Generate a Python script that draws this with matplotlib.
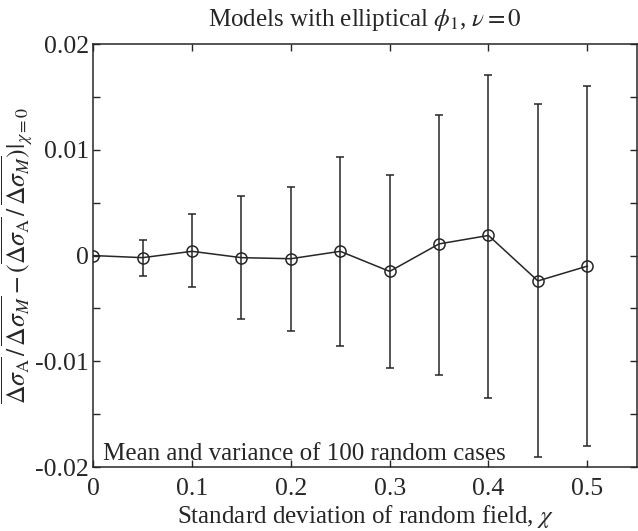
import numpy as np
import matplotlib.pyplot as plt
from matplotlib.ticker import MultipleLocator, FuncFormatter

# Mean difference and spread for each standard deviation of the random field
chi = [0.0, 0.05, 0.10, 0.15, 0.20, 0.25, 0.30, 0.35, 0.40, 0.45, 0.50]
mean_diff = [0.0, -0.0002, 0.0004, -0.0002, -0.0003, 0.0004, -0.0015, 0.0011, 0.0019, -0.0024, -0.0010]
err_up = [0.0, 0.0017, 0.0035, 0.0058, 0.0068, 0.0089, 0.0091, 0.0122, 0.0152, 0.0167, 0.0170]
err_lo = [0.0, 0.0017, 0.0034, 0.0058, 0.0068, 0.0090, 0.0091, 0.0124, 0.0154, 0.0167, 0.0170]

plt.rcParams['font.family'] = ['Liberation Serif', 'DejaVu Serif']
plt.rcParams['mathtext.fontset'] = 'stix'

fig = plt.figure(figsize=(6.38, 5.31), dpi=100)
ax = fig.add_axes([0.146, 0.1205, 0.852, 0.7965])

col = '#262626'
ax.errorbar(chi, mean_diff, yerr=[err_lo, err_up], color=col, lw=1.1,
            elinewidth=1.1, capsize=3, capthick=1.1, marker='o', ms=8,
            mfc='none', mec=col, mew=1.1)

ax.set_xlim(0, 0.55)
ax.set_ylim(-0.02, 0.02)
ax.xaxis.set_major_locator(MultipleLocator(0.1))
ax.yaxis.set_major_locator(MultipleLocator(0.005))


def ylab(v, pos):
    if abs(round(v / 0.01) - v / 0.01) > 1e-6:
        return ''
    if abs(v) < 1e-9:
        return '0'
    return '%g' % v


ax.yaxis.set_major_formatter(FuncFormatter(ylab))
ax.xaxis.set_major_formatter(FuncFormatter(lambda v, p: '0' if abs(v) < 1e-9 else '%g' % v))
ax.tick_params(direction='in', top=True, right=True, length=5, width=1,
               labelsize=18.5, colors=col)
ax.tick_params(axis='x', pad=8)
ax.tick_params(axis='y', pad=3)
for s in ax.spines.values():
    s.set_color(col)
    s.set_linewidth(1.1)

ax.set_title(r'Models with elliptical $\phi_1$, $\nu = 0$', fontsize=18, color=col, pad=13)
ax.set_xlabel(r'Standard deviation of random field, $\chi$', fontsize=18, color=col, labelpad=2)
ax.set_ylabel(r'$\overline{\Delta\sigma_{\mathrm{A}}}\,/\,\overline{\Delta\sigma_{M}}'
              r' - (\overline{\Delta\sigma_{\mathrm{A}}}\,/\,\overline{\Delta\sigma_{M}})|_{\chi=0}$',
              fontsize=18.5, color=col, labelpad=0)
ax.text(0.0095, -0.0193, 'Mean and variance of 100 random cases', fontsize=18, color=col,
        va='baseline', ha='left')

fig.savefig('out.png', dpi=100)
